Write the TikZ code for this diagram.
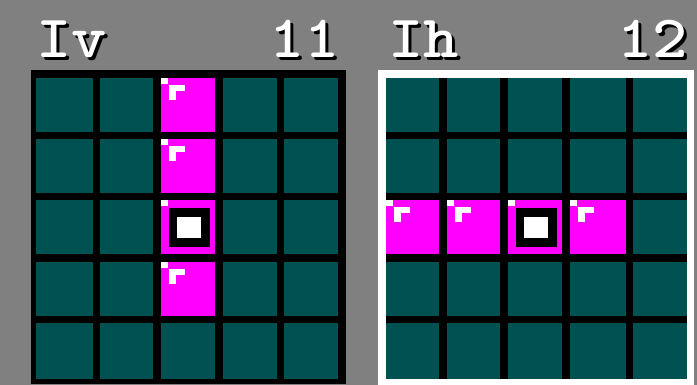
\documentclass[tikz,border=0pt]{standalone}
\usepackage{fontspec}
\usetikzlibrary{calc}
\definecolor{bggrey}{RGB}{128,128,128}
\definecolor{tealc}{RGB}{0,82,82}
\definecolor{magc}{RGB}{255,0,255}
\newcommand\shadowtext[1]{\rlap{\hspace{3pt}\raisebox{-3pt}{\color{black}#1}}#1}
\tikzset{
  lbl/.style={inner sep=0pt, text=white, xscale=1.12,
    font=\ttfamily\bfseries\fontsize{60}{60}\selectfont},
}
\newcommand\markcell[2]{%
  \fill[magc] (#1,#2) rectangle ++(\cw,\ch);
  \fill[white] (#1,#2) rectangle ++(7,6);
  \fill[white] ($(#1,#2)+(8,7)$) rectangle ++(16,6);
  \fill[white] ($(#1,#2)+(8,7)$) rectangle ++(7,15);
}
\newcommand\centercell[2]{%
  \fill[magc] (#1,#2) rectangle ++(\cw,\ch);
  \fill[white] (#1,#2) rectangle ++(7,6);
  \fill[black] ($(#1,#2)+(8,8)$) rectangle ++(41,39);
  \fill[white] ($(#1,#2)+(16,17)$) rectangle ++(24,21);
}
\begin{document}
\begin{tikzpicture}[x=1pt,y=-1pt]
\fill[bggrey] (0,0) rectangle (697,385);
\useasboundingbox (0,0) rectangle (697,385);
% left panel
\fill[black] (31,70) rectangle (346,384);
\foreach \a/\e in {36/93,100/153,161/215,223/277,284/338}
  \foreach \b/\f in {78/132,139/193,200/254,262/316,323/379}
    \fill[tealc] (\a,\b) rectangle (\e,\f);
% right panel
\fill[white] (378,70) rectangle (694,385);
\fill[black] (386,78) rectangle (687,379);
\foreach \a/\e in {386/439,447/500,508/562,570/626,633/687}
  \foreach \b/\f in {78/132,139/193,200/254,262/316,323/379}
    \fill[tealc] (\a,\b) rectangle (\e,\f);
% magenta cells left (column 3)
\def\cw{54}\def\ch{54}
\markcell{161}{78}
\markcell{161}{139}
\centercell{161}{200}
\markcell{161}{262}
% magenta cells right (row 3)
\def\cw{53}
\markcell{386}{200}
\markcell{447}{200}
\def\cw{54}
\centercell{508}{200}
\def\cw{56}
\markcell{570}{200}
% labels with shadow
\node[lbl, anchor=base west] (iv) at (36,58) {\shadowtext{Iv}};
\node[lbl, anchor=base east] (n11) at (340,58) {\shadowtext{11}};
\node[lbl, anchor=base west] (ih) at (388,58) {\shadowtext{Ih}};
\node[lbl, anchor=base east] (n12) at (688,58) {\shadowtext{12}};
\end{tikzpicture}
\end{document}
